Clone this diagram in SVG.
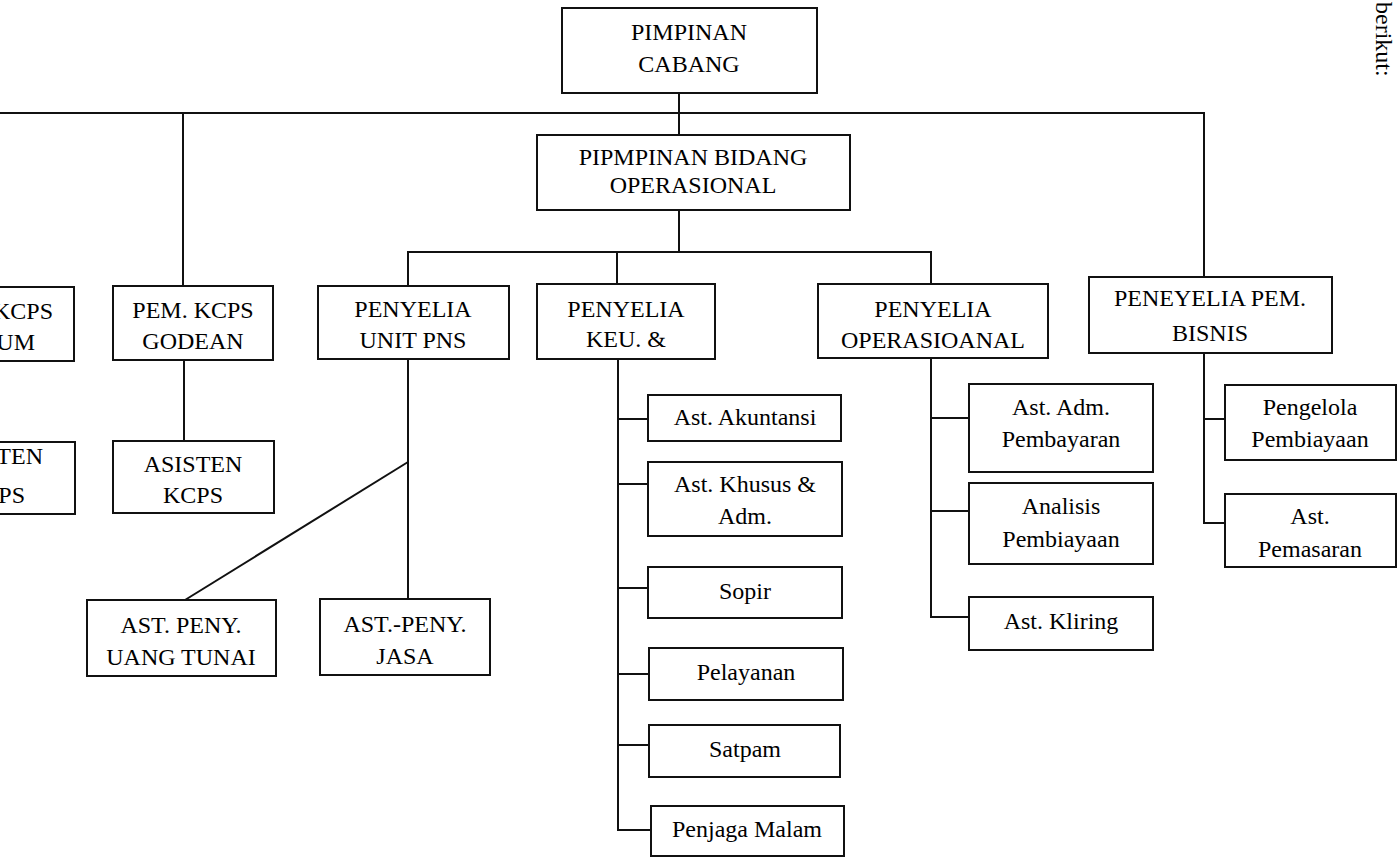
<svg xmlns="http://www.w3.org/2000/svg" width="1398" height="857" viewBox="0 0 1398 857">
<style>
.box{fill:#fff;stroke:#111;stroke-width:2}
.ln{fill:none;stroke:#111;stroke-width:2}
text{font-family:"Liberation Serif","Times New Roman",serif;font-size:24px;fill:#000;text-anchor:middle}
.e{text-anchor:end}
</style>
<rect width="1398" height="857" fill="#fff"/>
<g id="connectors">
<path class="ln" d="M0 113H1204V277"/>
<path class="ln" d="M679 93V135"/>
<path class="ln" d="M183 113V286"/>
<path class="ln" d="M679 210V252"/>
<path class="ln" d="M408 286V252H931V284"/>
<path class="ln" d="M617 252V284"/>
<path class="ln" d="M184 360V441"/>
<path class="ln" d="M408 359V599"/>
<path class="ln" d="M408 462L185 600"/>
<path class="ln" d="M618 359V830H651"/>
<path class="ln" d="M618 419H648M618 484H648M618 588H648M618 674H649M618 745H649"/>
<path class="ln" d="M931 358V617H969M931 418H969M931 511H969"/>
<path class="ln" d="M1204 353V523H1225M1204 419H1225"/>
</g>
<g id="pimpinan-cabang"><rect class="box" x="562" y="8" width="255" height="85"/><text x="689" y="40">PIMPINAN</text><text x="689" y="72">CABANG</text></g>
<g id="pimpinan-bidang"><rect class="box" x="537" y="135" width="313" height="75"/><text x="693" y="165">PIPMPINAN BIDANG</text><text x="693" y="193">OPERASIONAL</text></g>
<g id="pem-kcps-left"><rect class="box" x="-90" y="287" width="164" height="74"/><text class="e" x="53" y="319">KCPS</text><text class="e" x="35" y="350">UM</text></g>
<g id="asisten-left"><rect class="box" x="-90" y="442" width="165" height="72"/><text class="e" x="43" y="464">TEN</text><text class="e" x="25" y="503">PS</text></g>
<g id="pem-kcps-godean"><rect class="box" x="113" y="286" width="160" height="74"/><text x="193" y="318">PEM. KCPS</text><text x="193" y="349">GODEAN</text></g>
<g id="asisten-kcps"><rect class="box" x="113" y="441" width="161" height="72"/><text x="193" y="472">ASISTEN</text><text x="193" y="503">KCPS</text></g>
<g id="penyelia-unit-pns"><rect class="box" x="318" y="286" width="191" height="73"/><text x="413" y="317">PENYELIA</text><text x="413" y="348">UNIT PNS</text></g>
<g id="ast-peny-uang"><rect class="box" x="87" y="600" width="189" height="76"/><text x="181" y="633">AST. PENY.</text><text x="181" y="665">UANG TUNAI</text></g>
<g id="ast-peny-jasa"><rect class="box" x="320" y="599" width="170" height="76"/><text x="405" y="632">AST.-PENY.</text><text x="405" y="664">JASA</text></g>
<g id="penyelia-keu"><rect class="box" x="537" y="284" width="178" height="75"/><text x="626" y="317">PENYELIA</text><text x="626" y="347">KEU. &amp;</text></g>
<g id="ast-akuntansi"><rect class="box" x="648" y="395" width="193" height="46"/><text x="745" y="425">Ast. Akuntansi</text></g>
<g id="ast-khusus"><rect class="box" x="648" y="462" width="194" height="74"/><text x="745" y="492">Ast. Khusus &amp;</text><text x="745" y="524">Adm.</text></g>
<g id="sopir"><rect class="box" x="648" y="567" width="194" height="51"/><text x="745" y="599">Sopir</text></g>
<g id="pelayanan"><rect class="box" x="649" y="648" width="194" height="52"/><text x="746" y="680">Pelayanan</text></g>
<g id="satpam"><rect class="box" x="649" y="725" width="191" height="52"/><text x="745" y="757">Satpam</text></g>
<g id="penjaga-malam"><rect class="box" x="651" y="806" width="193" height="50"/><text x="747" y="837">Penjaga Malam</text></g>
<g id="penyelia-operasional"><rect class="box" x="818" y="284" width="230" height="74"/><text x="933" y="317">PENYELIA</text><text x="933" y="348">OPERASIOANAL</text></g>
<g id="ast-adm-pembayaran"><rect class="box" x="969" y="384" width="184" height="88"/><text x="1061" y="415">Ast. Adm.</text><text x="1061" y="447">Pembayaran</text></g>
<g id="analisis-pembiayaan"><rect class="box" x="969" y="483" width="184" height="81"/><text x="1061" y="514">Analisis</text><text x="1061" y="547">Pembiayaan</text></g>
<g id="ast-kliring"><rect class="box" x="969" y="597" width="184" height="53"/><text x="1061" y="629">Ast. Kliring</text></g>
<g id="peneyelia-bisnis"><rect class="box" x="1089" y="277" width="243" height="76"/><text x="1210" y="306">PENEYELIA PEM.</text><text x="1210" y="341">BISNIS</text></g>
<g id="pengelola-pembiayaan"><rect class="box" x="1225" y="385" width="171" height="75"/><text x="1310" y="415">Pengelola</text><text x="1310" y="447">Pembiayaan</text></g>
<g id="ast-pemasaran"><rect class="box" x="1225" y="494" width="171" height="73"/><text x="1310" y="524">Ast.</text><text x="1310" y="557">Pemasaran</text></g>
<text transform="translate(1376 2) rotate(90)" style="text-anchor:start">berikut:</text>
</svg>
